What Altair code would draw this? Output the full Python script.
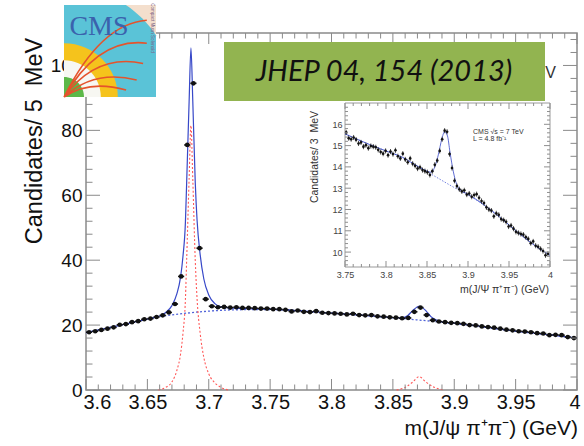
import altair as alt
import pandas as pd

# ---------------- main spectrum: 5 MeV bins (thousands of candidates) ----------------
main_counts = [
    17.8, 18.1, 18.5, 18.9, 19.3, 20.1, 20.3, 20.9, 21.2, 21.8,
    22.0, 22.5, 23.0, 23.9, 26.5, 35.0, 75.5, 94.5, 43.7, 28.0,
    25.8, 25.5, 25.6, 25.4, 25.5, 25.3, 25.3, 25.2, 25.1, 25.1,
    24.9, 24.9, 24.7, 24.2, 24.5, 24.1, 24.0, 24.3, 23.8, 23.7,
    23.6, 23.5, 23.3, 23.5, 23.1, 23.0, 23.1, 22.7, 22.6, 22.4,
    22.3, 22.1, 22.2, 24.1, 25.4, 23.1, 21.5, 21.1, 20.9, 20.7,
    20.6, 20.4, 20.0, 19.9, 19.6, 19.4, 19.2, 18.9, 18.6, 18.4,
    18.1, 18.0, 17.8, 17.5, 17.4, 16.9, 17.0, 16.9, 16.3, 16.0,
]
MAIN_BIN = 0.005
main_mass = [round(3.6 + MAIN_BIN * (i + 0.5), 4) for i in range(len(main_counts))]

# total fit
fit_total_m = [3.600, 3.620, 3.640, 3.655, 3.660, 3.665, 3.670, 3.674, 3.677, 3.679,
               3.681, 3.682, 3.684, 3.6855, 3.687, 3.689, 3.6905, 3.693, 3.696, 3.700,
               3.705, 3.710, 3.720, 3.750, 3.800, 3.830, 3.850, 3.857, 3.862, 3.866,
               3.8715, 3.877, 3.881, 3.885, 3.890, 3.900, 3.920, 3.950, 3.980, 4.000]
fit_total_v = [17.7, 19.3, 21.0, 22.3, 22.8, 23.9, 26.0, 29.6, 34.7, 41.2,
               51.8, 63.8, 88.8, 105.4, 89.0, 64.0, 52.2, 41.7, 34.2, 29.3,
               26.6, 25.6, 25.2, 24.9, 23.7, 22.9, 22.3, 22.2, 22.9, 24.4,
               25.8, 24.4, 22.6, 21.6, 21.0, 20.6, 19.7, 18.1, 16.9, 16.0]
# background component
fit_bkg_m = [3.600, 3.620, 3.640, 3.660, 3.680, 3.700, 3.720, 3.750, 3.800,
             3.830, 3.850, 3.870, 3.890, 3.920, 3.950, 3.980, 4.000]
fit_bkg_v = [17.7, 19.3, 21.0, 22.6, 23.6, 24.3, 24.7, 24.8, 23.7,
             22.9, 22.3, 21.6, 20.9, 19.6, 18.1, 16.9, 16.0]
# psi(2S) signal component
sig_psi_m = [3.659, 3.665, 3.670, 3.674, 3.677, 3.679, 3.681, 3.682, 3.684, 3.6855,
             3.687, 3.689, 3.6905, 3.693, 3.696, 3.700, 3.705, 3.710, 3.716]
sig_psi_v = [0.0, 0.8, 2.5, 6.0, 11.0, 17.5, 28.0, 40.0, 65.0, 81.5,
             65.0, 40.0, 28.0, 17.5, 10.0, 5.0, 2.2, 0.8, 0.0]
# X(3872) signal component
sig_x_m = [3.853, 3.860, 3.866, 3.8715, 3.877, 3.884, 3.892]
sig_x_v = [0.0, 0.8, 2.4, 4.1, 2.4, 0.8, 0.0]

main_x_major = [3.6, 3.65, 3.7, 3.75, 3.8, 3.85, 3.9, 3.95, 4.0]
main_y_major = [0, 20, 40, 60, 80, 100]

# ---------------- inset: 3 MeV bins around the X(3872) ----------------
inset_counts = [
    15.62, 15.35, 15.30, 15.38, 15.28, 15.10, 15.15, 14.95, 15.02, 14.88,
    14.98, 14.95, 14.92, 14.80, 14.70, 14.62, 14.75, 14.55, 14.72, 14.60,
    14.78, 14.50, 14.40, 14.62, 14.35, 14.22, 14.40, 14.15, 14.05, 13.92,
    13.98, 13.85, 13.80, 13.75, 13.62, 13.80, 14.10, 14.30, 14.75, 15.30,
    15.70, 15.65, 14.60, 13.95, 13.35, 13.10, 12.95, 12.85, 12.90, 12.70,
    12.75, 12.60, 12.68, 12.72, 12.55, 12.40, 12.30, 12.10, 12.00, 11.95,
    11.68, 11.82, 11.75, 11.55, 11.50, 11.42, 11.20, 11.25, 11.10, 10.95,
    10.90, 10.85, 10.82, 10.70, 10.62, 10.42, 10.50, 10.30, 10.25, 10.15,
    10.05, 9.85, 9.92,
]
INSET_BIN = 0.003
INSET_ERR = 0.12
inset_mass = [round(3.75 + INSET_BIN * (i + 0.5), 4) for i in range(len(inset_counts))]

inset_total_m = [3.750, 3.780, 3.800, 3.820, 3.840, 3.850, 3.855, 3.860, 3.864, 3.868,
                 3.8715, 3.875, 3.878, 3.882, 3.886, 3.890, 3.900, 3.920, 3.940, 3.960,
                 3.980, 4.000]
inset_total_v = [15.55, 15.05, 14.75, 14.45, 14.00, 13.80, 13.75, 14.05, 14.60, 15.30,
                 15.65, 15.45, 14.70, 13.80, 13.20, 12.95, 12.72, 12.20, 11.60, 10.95,
                 10.35, 9.85]
inset_bkg_m = [3.750, 3.780, 3.800, 3.820, 3.840, 3.860, 3.880, 3.900, 3.920,
               3.940, 3.960, 3.980, 4.000]
inset_bkg_v = [15.55, 15.05, 14.75, 14.45, 14.00, 13.55, 13.10, 12.68, 12.20,
               11.60, 10.95, 10.35, 9.85]

inset_x_major = [3.75, 3.8, 3.85, 3.9, 3.95, 4.0]
inset_y_major = [10, 11, 12, 13, 14, 15, 16]
INSET_X_DOMAIN = [3.75, 4.0]
INSET_Y_DOMAIN = [9.3, 17.0]

# ---------------- layout (pixels inside the main plot area) ----------------
W, H = 491, 357
INSET_X_RANGE = [259, 464]
INSET_Y_RANGE = [234, 70]

FONT = "Liberation Sans"
TICK = "#8a8a8a"
BLUE = "#3748c8"
BLUE_DOT = "#5063d8"
RED = "#ff5a5a"

mx = alt.Scale(domain=[3.6, 4.0], nice=False, zero=False)
my = alt.Scale(domain=[0, 110], nice=False, zero=False)
ix = alt.Scale(domain=INSET_X_DOMAIN, range=INSET_X_RANGE, nice=False, zero=False)
iy = alt.Scale(domain=INSET_Y_DOMAIN, range=INSET_Y_RANGE, nice=False, zero=False)

main_x_axis = alt.Axis(values=main_x_major, format=".2~f", orient="bottom", title=None,
                       grid=False, domain=False, ticks=False, labelPadding=2,
                       labelFontSize=20, labelFont=FONT, labelColor="#111",
                       labelFlush=True, labelFlushOffset=3, labelOverlap=False)
main_y_axis = alt.Axis(values=main_y_major, orient="left", title=None, grid=False,
                       domain=False, ticks=False, labelPadding=4, labelFontSize=19,
                       labelFont=FONT, labelColor="#111", labelOverlap=False)
inset_x_axis = alt.Axis(values=inset_x_major, format=".2~f", orient="bottom",
                        offset=-(H - INSET_Y_RANGE[0]), title=None, grid=False,
                        domain=False, ticks=False, labelPadding=3, labelFontSize=9,
                        labelFont=FONT, labelColor="#444", labelFlush=False,
                        labelOverlap=False)
inset_y_axis = alt.Axis(values=inset_y_major, orient="left", offset=-INSET_X_RANGE[0],
                        title=None, grid=False, domain=False, ticks=False,
                        labelPadding=3, labelFontSize=9, labelFont=FONT,
                        labelColor="#444", labelOverlap=False)


def curve(ms, vs, xs, ys, color, width, dash=None):
    df = pd.DataFrame({"m": ms, "v": vs})
    kw = dict(color=color, strokeWidth=width, interpolate="monotone")
    if dash:
        kw["strokeDash"] = dash
    return alt.Chart(df).mark_line(**kw).encode(
        x=alt.X("m:Q", scale=xs, axis=None), y=alt.Y("v:Q", scale=ys, axis=None))


def xticks(vals, xs, y0, length, color=TICK):
    df = pd.DataFrame({"t": vals})
    return alt.Chart(df).mark_rule(color=color, strokeWidth=1).encode(
        x=alt.X("t:Q", scale=xs, axis=None), y=alt.value(y0), y2=alt.value(y0 + length))


def yticks(vals, ys, x0, length, color=TICK):
    df = pd.DataFrame({"t": vals})
    return alt.Chart(df).mark_rule(color=color, strokeWidth=1).encode(
        y=alt.Y("t:Q", scale=ys, axis=None), x=alt.value(x0), x2=alt.value(x0 + length))


# ---------------- main plot ----------------
main_df = pd.DataFrame({"m": main_mass, "n": main_counts})
main_df["lo"] = main_df["m"] - MAIN_BIN / 2
main_df["hi"] = main_df["m"] + MAIN_BIN / 2

main_x_minor = [round(3.6 + 0.01 * i, 2) for i in range(41) if i % 5]
main_y_minor = [4 * i for i in range(1, 28) if (4 * i) % 20]

main_bars = alt.Chart(main_df).mark_rule(color="#111", strokeWidth=1.6).encode(
    x=alt.X("lo:Q", scale=mx, axis=None), x2="hi:Q", y=alt.Y("n:Q", scale=my, axis=None))
main_pts = alt.Chart(main_df).mark_circle(size=22, color="#111", opacity=1).encode(
    x=alt.X("m:Q", scale=mx, axis=main_x_axis), y=alt.Y("n:Q", scale=my, axis=main_y_axis))

main_layers = [
    curve(fit_bkg_m, fit_bkg_v, mx, my, BLUE_DOT, 1.3, [2, 2]),
    curve(sig_psi_m, sig_psi_v, mx, my, RED, 1.1, [2, 2]),
    curve(sig_x_m, sig_x_v, mx, my, RED, 1.1, [2, 2]),
    curve(fit_total_m, fit_total_v, mx, my, BLUE, 1.2),
    main_bars,
    main_pts,
    xticks(main_x_major, mx, H, -11), xticks(main_x_minor, mx, H, -5.5),
    xticks(main_x_major, mx, 0, 11), xticks(main_x_minor, mx, 0, 5.5),
    yticks(main_y_major, my, 0, 14), yticks(main_y_minor, my, 0, 6.5),
    yticks(main_y_major, my, W, -14), yticks(main_y_minor, my, W, -6.5),
]

# ---------------- inset ----------------
inset_df = pd.DataFrame({"m": inset_mass, "n": inset_counts})
inset_df["lo"] = inset_df["n"] - INSET_ERR
inset_df["hi"] = inset_df["n"] + INSET_ERR

inset_x_minor = [round(3.75 + 0.01 * i, 2) for i in range(1, 25) if i % 5]
inset_y_minor = [round(9.4 + 0.2 * i, 1) for i in range(38) if round(9.4 + 0.2 * i, 1) % 1]

frame_df = pd.DataFrame({"x0": [INSET_X_DOMAIN[0]], "x1": [INSET_X_DOMAIN[1]],
                         "y0": [INSET_Y_DOMAIN[0]], "y1": [INSET_Y_DOMAIN[1]]})
frame = alt.Chart(frame_df).mark_rect(fill="white", stroke="#9a9a9a", strokeWidth=1).encode(
    x=alt.X("x0:Q", scale=ix, axis=None), x2="x1:Q",
    y=alt.Y("y0:Q", scale=iy, axis=None), y2="y1:Q")

inset_err = alt.Chart(inset_df).mark_rule(color="#222", strokeWidth=0.8).encode(
    x=alt.X("m:Q", scale=ix, axis=None), y=alt.Y("lo:Q", scale=iy, axis=None), y2="hi:Q")
inset_pts = alt.Chart(inset_df).mark_circle(size=7, color="#111", opacity=1).encode(
    x=alt.X("m:Q", scale=ix, axis=inset_x_axis), y=alt.Y("n:Q", scale=iy, axis=inset_y_axis))

IX0, IX1 = INSET_X_RANGE
IY1, IY0 = INSET_Y_RANGE  # bottom, top
INSET_TICK = "#8f8f8f"

inset_layers = [
    frame,
    curve(inset_bkg_m, inset_bkg_v, ix, iy, BLUE_DOT, 0.8, [1.5, 1.5]),
    curve(inset_total_m, inset_total_v, ix, iy, BLUE, 0.8),
    inset_err,
    inset_pts,
    xticks(inset_x_major, ix, IY1, -6, INSET_TICK), xticks(inset_x_minor, ix, IY1, -3, INSET_TICK),
    xticks(inset_x_major, ix, IY0, 6, INSET_TICK), xticks(inset_x_minor, ix, IY0, 3, INSET_TICK),
    yticks(inset_y_major, iy, IX0, 6, INSET_TICK), yticks(inset_y_minor, iy, IX0, 3, INSET_TICK),
    yticks(inset_y_major, iy, IX1, -6, INSET_TICK), yticks(inset_y_minor, iy, IX1, -3, INSET_TICK),
]


def label(text, x, y, size, color="#111", align="center", baseline="middle",
          angle=0, font=FONT, style=None):
    kw = dict(fontSize=size, color=color, align=align, baseline=baseline, font=font)
    if angle:
        kw["angle"] = angle
    if style:
        kw["fontStyle"] = style
    return alt.Chart(pd.DataFrame({"t": [text]})).mark_text(**kw).encode(
        text="t:N", x=alt.value(x), y=alt.value(y))


text_layers = [
    label("Candidates/ 5\u00a0\u00a0MeV", -51, 108, 23.5, angle=270),
    label("m(J/\u03c8 \u03c0\u207a\u03c0\u207b) (GeV)", 492, 396, 21, align="right"),
    label("Candidates/ 3\u00a0\u00a0MeV", 229, 124, 10.5, color="#333", angle=270),
    label("m(J/\u03a8 \u03c0\u207a\u03c0\u207b) (GeV)", 463, 257, 10.5, color="#333", align="right"),
    label("\u00d710\u00b3", 260, 68, 7, color="#444", align="left", baseline="bottom"),
    label("CMS  \u221as = 7 TeV", 387, 99, 7, color="#333", align="left"),
    label("L = 4.8 fb\u207b\u00b9", 387, 106, 7, color="#333", align="left"),
    # main-plot energy label, mostly hidden behind the banner
    label("TeV", 470, 45, 16, color="#333", align="right", baseline="alphabetic"),
]

# ---------------- CMS logo, drawn as unit-square symbol paths ----------------
LOGO_X, LOGO_Y, LOGO_SIZE = 24, 18, 92 * 92
logo_shapes = [
    ("M-1,-1L1,-1L1,1L-1,1Z", "#f4dfcd"),
    ("M-1,1L-1,-1L0.345,-1A2.41,2.41,0,0,1,1,-0.345L1,1Z", "#5ac3d7"),
    ("M-1,1L-1,-0.17A1.17,1.17,0,0,1,0.17,1Z", "#f5c31c"),
    ("M-1,1L-1,0.2A0.8,0.8,0,0,1,-0.2,1Z", "#f7f7f2"),
    ("M-1,1L-1,0.565A0.435,0.435,0,0,1,-0.565,1Z", "#5cb848"),
]
one = pd.DataFrame({"k": [0]})
logo_layers = [
    alt.Chart(one).mark_point(shape=p, size=LOGO_SIZE, filled=True, color=c, opacity=1).encode(
        x=alt.value(LOGO_X), y=alt.value(LOGO_Y))
    for p, c in logo_shapes
]
tracks = ("M-1,1Q-0.2,-0.6,0.8,-0.67"
          "M-1,1Q-0.25,-0.3,0.8,-0.17"
          "M-1,1Q-0.3,0.05,0.72,0.27"
          "M-1,1Q-0.35,0.4,0.58,0.63"
          "M-1,1Q-0.45,0.62,0.35,0.85")
logo_layers.append(
    alt.Chart(one).mark_point(shape=tracks, size=LOGO_SIZE, filled=False, color="#e5532c",
                              strokeWidth=1.6, opacity=1).encode(
        x=alt.value(LOGO_X), y=alt.value(LOGO_Y)))
logo_layers.append(label("CMS", 13, -6, 28, color="#3a62ad", font="Liberation Serif"))
logo_layers.append(label("Compact Muon Solenoid", 66, -5, 4.5, color="#7a5f86", angle=90))

# ---------------- journal reference banner ----------------
banner = alt.Chart(one).mark_rect(color="#92b450", opacity=1).encode(
    x=alt.value(138), x2=alt.value(459), y=alt.value(9), y2=alt.value(68))
banner_text = label("JHEP 04, 154 (2013)", 298, 39, 29, color="#111", font="Lato",
                    style="italic")

chart = alt.layer(
    *main_layers, *inset_layers, *text_layers, *logo_layers, banner, banner_text
).resolve_scale(
    x="independent", y="independent"
).properties(
    width=W, height=H,
    autosize=alt.AutoSizeParams(type="none"),
    padding={"left": 86, "top": 33, "right": 7, "bottom": 56},
).configure_view(stroke=TICK, strokeWidth=1.5)

chart.save("out.html", embed_options={"renderer": "svg", "actions": False})
